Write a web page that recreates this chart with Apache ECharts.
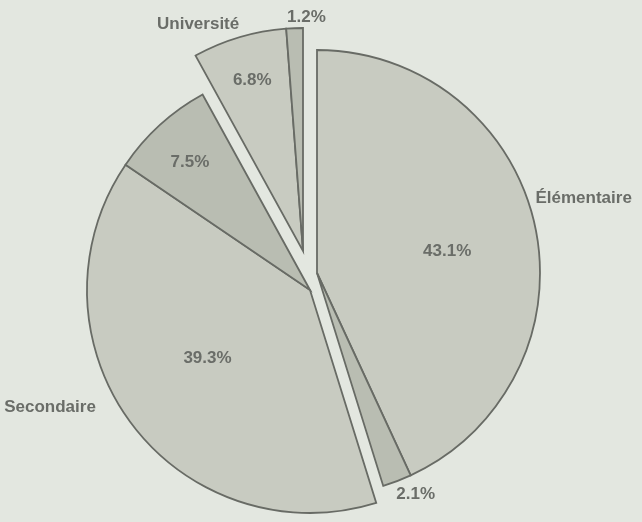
<!DOCTYPE html>
<html>
<head>
<meta charset="utf-8">
<script src="https://cdn.jsdelivr.net/npm/echarts@6/dist/echarts.min.js"></script>
<style>
  html, body { margin: 0; padding: 0; background: #e3e7e0; }
  #chart { width: 642px; height: 522px; }
</style>
</head>
<body>
<div id="chart"></div>
<script>
// Level groups and their slices (percent), clockwise from 12 o'clock
const groupNames = ['Élémentaire', 'Secondaire', 'Université'];
const sliceValues = [43.1, 2.1, 39.3, 7.5, 6.8, 1.2];
const sliceGroup = [0, 0, 1, 1, 2, 2];

// ---- presentation ----
const RADIUS = 223;
const groupVertex = [[317, 273], [310, 290], [303, 251]];   // each wedge group is pulled apart
const lightFill = '#c8cbc1';
const darkFill = '#b9bdb2';
const sliceFill = [lightFill, darkFill, lightFill, darkFill, lightFill, darkFill];
const edgeColor = '#686b65';
const textColor = '#6a6d68';
// label placement: distance from the group vertex, angular nudge from the slice middle (deg)
const sliceLabelPlace = [
  { r: 132, da: 3 }, { r: 242, da: -3 }, { r: 123, da: 3 },
  { r: 175, da: -1 }, { r: 178, da: 0 }, { r: 234, da: 3 }
];
// group name placement: distance from the group vertex, clockwise angle from 12 o'clock (deg)
const namePlace = [{ r: 277, a: 74.3 }, { r: 285, a: 245.8 }, { r: 250, a: 335.2 }];

const total = sliceValues.reduce((s, v) => s + v, 0);
const polar = (c, r, deg) => {
  const t = deg * Math.PI / 180;
  return [c[0] + r * Math.sin(t), c[1] - r * Math.cos(t)];
};

const labelFont = {
  color: textColor, fontFamily: 'Liberation Sans, Arial, sans-serif',
  fontWeight: 'bold', fontSize: 17
};
const filler = v => ({
  value: v, name: '',
  itemStyle: { color: 'rgba(0,0,0,0)', borderWidth: 0 },
  label: { show: false }, labelLine: { show: false }
});

const series = [];
let cum = 0;
groupNames.forEach((gName, g) => {
  const data = [];
  const labelPos = {};
  const before = cum;
  if (before > 0) data.push(filler(before));
  sliceValues.forEach((v, i) => {
    if (sliceGroup[i] !== g) return;
    const mid = (cum + v / 2) / total * 360;
    const p = sliceLabelPlace[i];
    labelPos[data.length] = polar(groupVertex[g], p.r, mid + p.da);
    data.push({
      value: v,
      name: v.toFixed(1) + '%',
      itemStyle: { color: sliceFill[i] }
    });
    cum += v;
  });
  if (total - cum > 1e-9) data.push(filler(total - cum));

  series.push({
    type: 'pie',
    center: groupVertex[g],
    radius: [0, RADIUS],
    startAngle: 90,
    clockwise: true,
    animation: false,
    silent: true,
    avoidLabelOverlap: false,
    emphasis: { disabled: true },
    itemStyle: { borderColor: edgeColor, borderWidth: 1.8, borderJoin: 'miter' },
    label: Object.assign({ show: true, position: 'inside', formatter: '{b}' }, labelFont),
    labelLine: { show: false },
    labelLayout: params => {
      const pt = labelPos[params.dataIndex];
      return pt ? { x: pt[0], y: pt[1], align: 'center', verticalAlign: 'middle' } : {};
    },
    data: data
  });
});

// Group names, carried by an invisible overlay series
const groupTotals = groupNames.map((_, g) =>
  sliceValues.reduce((s, v, i) => s + (sliceGroup[i] === g ? v : 0), 0));
const namePos = namePlace.map((p, g) => polar(groupVertex[g], p.r, p.a));
series.push({
  type: 'pie',
  center: groupVertex[1],
  radius: [0, RADIUS],
  startAngle: 90,
  animation: false,
  silent: true,
  avoidLabelOverlap: false,
  emphasis: { disabled: true },
  itemStyle: { color: 'rgba(0,0,0,0)', borderWidth: 0 },
  label: Object.assign({ show: true, position: 'inside', formatter: '{b}' }, labelFont),
  labelLine: { show: false },
  labelLayout: params => {
    const pt = namePos[params.dataIndex];
    return { x: pt[0], y: pt[1], align: 'center', verticalAlign: 'middle' };
  },
  data: groupNames.map((n, g) => ({ value: groupTotals[g], name: n }))
});

const chart = echarts.init(document.getElementById('chart'), null, { renderer: 'canvas' });
chart.setOption({
  backgroundColor: '#e3e7e0',
  series: series
});
</script>
</body>
</html>
